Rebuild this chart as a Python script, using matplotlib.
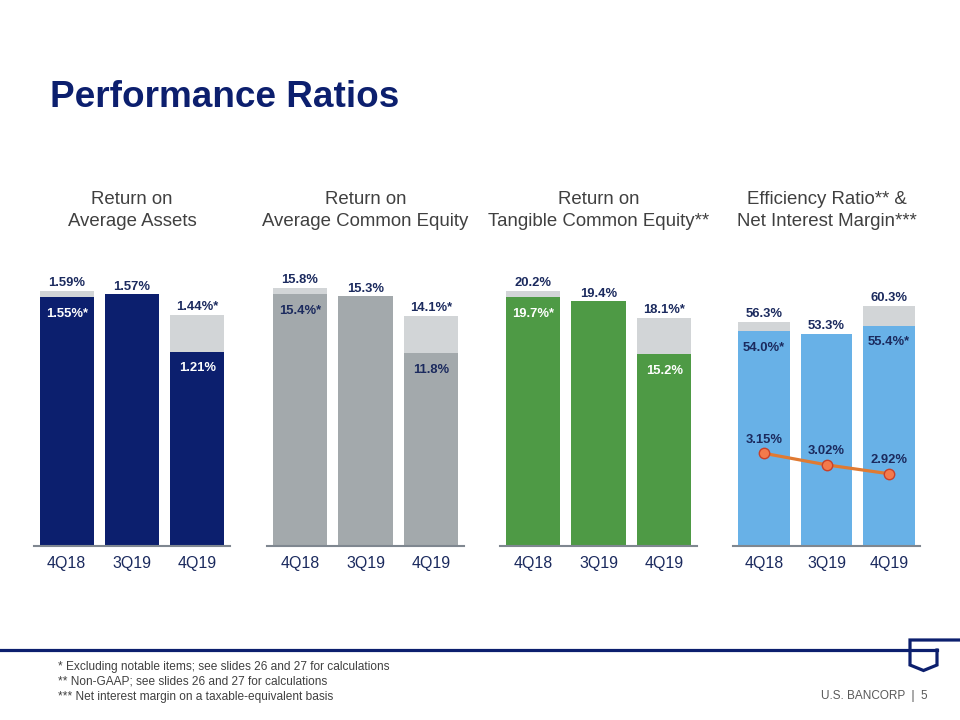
import numpy as np
import matplotlib
matplotlib.use("Agg")
import matplotlib.pyplot as plt
from matplotlib.lines import Line2D

plt.rcParams['font.family'] = ['Liberation Sans', 'DejaVu Sans']

# ---------------- data ----------------
categories = ['4Q18', '3Q19', '4Q19']

roa_reported = [1.59, 1.57, 1.21]
roa_adjusted = [1.55, np.nan, 1.44]

roe_reported = [15.8, 15.3, 11.8]
roe_adjusted = [15.4, np.nan, 14.1]

rotce_reported = [20.2, 19.4, 15.2]
rotce_adjusted = [19.7, np.nan, 18.1]

eff_reported = [56.3, 53.3, 60.3]
eff_adjusted = [54.0, np.nan, 55.4]

nim_values = [3.15, 3.02, 2.92]

panel_titles = ['Return on\nAverage Assets',
                'Return on\nAverage Common Equity',
                'Return on\nTangible Common Equity**',
                'Efficiency Ratio** &\nNet Interest Margin***']

footnotes = ['* Excluding notable items; see slides 26 and 27 for calculations',
             '** Non-GAAP; see slides 26 and 27 for calculations',
             '*** Net interest margin on a taxable-equivalent basis']

# ---------------- style ----------------
NAVY = '#0c1f6e'
TXT_NAVY = '#1b2a5e'
LIGHT = '#d2d5d7'
TITLE_GRAY = '#404040'

W, H = 960, 720
fig = plt.figure(figsize=(9.6, 7.2), dpi=100)
fig.patch.set_facecolor('white')

def fx(px):
    return px / W

def fy(py):
    return 1 - py / H

panels = [
    dict(rep=roa_reported, adj=roa_adjusted, color=NAVY, inner='white',
         fmt='{:.2f}%', x=(34, 230), ytop=1.783, width=0.83),
    dict(rep=roe_reported, adj=roe_adjusted, color='#a3a9ac', inner=TXT_NAVY,
         fmt='{:.1f}%', x=(267, 464), ytop=17.51, width=0.83),
    dict(rep=rotce_reported, adj=rotce_adjusted, color='#4e9a45', inner='white',
         fmt='{:.1f}%', x=(500, 697), ytop=22.66, width=0.83),
    dict(rep=eff_reported, adj=eff_adjusted, color='#68b1e7', inner=TXT_NAVY,
         fmt='{:.1f}%', x=(733, 920), ytop=71.86, width=0.83),
]

ax_top_px, ax_bot_px = 260, 546
for i, p in enumerate(panels):
    l, r = p['x']
    ax = fig.add_axes([fx(l), fy(ax_bot_px), fx(r - l), (ax_bot_px - ax_top_px) / H])
    rep = np.array(p['rep'], dtype=float)
    adj = np.array(p['adj'], dtype=float)
    low = np.where(np.isnan(adj), rep, np.fmin(rep, adj))
    high = np.where(np.isnan(adj), rep, np.fmax(rep, adj))
    xs = np.arange(len(categories))
    ax.bar(xs, low, width=p['width'], color=p['color'], zorder=2)
    ax.bar(xs, high - low, bottom=low, width=p['width'], color=LIGHT, zorder=2)

    for j in range(len(categories)):
        top_is_adj = (not np.isnan(adj[j])) and adj[j] >= rep[j]
        top_lbl = p['fmt'].format(high[j]) + ('*' if top_is_adj else '')
        ax.annotate(top_lbl, (xs[j], high[j]), xytext=(0, 3.3),
                    textcoords='offset points', ha='center', va='baseline',
                    fontsize=9.4, fontweight='bold', color=TXT_NAVY, zorder=5)
        if not np.isnan(adj[j]):
            low_is_adj = adj[j] < rep[j]
            low_lbl = p['fmt'].format(low[j]) + ('*' if low_is_adj else '')
            ax.annotate(low_lbl, (xs[j], low[j]), xytext=(0, -14),
                        textcoords='offset points', ha='center', va='baseline',
                        fontsize=9.4, fontweight='bold', color=p['inner'], zorder=5)

    ax.set_xlim(-0.5, len(categories) - 0.5)
    ax.set_ylim(0, p['ytop'])
    ax.set_xticks(xs)
    ax.set_xticklabels(categories, fontsize=11.5, color=TXT_NAVY)
    ax.tick_params(axis='x', length=0, pad=7)
    ax.set_yticks([])
    for s in ['top', 'left', 'right']:
        ax.spines[s].set_visible(False)
    ax.spines['bottom'].set_color('#7f8790')
    ax.spines['bottom'].set_linewidth(1.5)
    ax.spines['bottom'].set_zorder(3)
    ax.patch.set_alpha(0)

    fig.text(fx((l + r) / 2), fy(210.5), panel_titles[i], ha='center', va='center',
             fontsize=13.4, color=TITLE_GRAY, linespacing=1.42)

    if i == 3:
        ax2 = ax.twinx()
        ax2.plot(xs, nim_values, color='#e07a32', lw=2.3, marker='o', ms=7.5,
                 mfc='#f37a4c', mec='#c8402a', mew=1.0, zorder=6)
        for j, v in enumerate(nim_values):
            ax2.annotate('{:.2f}%'.format(v), (xs[j], v), xytext=(0, 7.6),
                         textcoords='offset points', ha='center', va='baseline',
                         fontsize=9.4, fontweight='bold', color=TXT_NAVY, zorder=7)
        ax2.set_ylim(2.105, 5.33)
        ax2.set_yticks([])
        for s in ['top', 'left', 'right', 'bottom']:
            ax2.spines[s].set_visible(False)

# main title
fig.text(fx(50), fy(106.7), 'Performance Ratios', ha='left', va='baseline',
         fontsize=26.6, fontweight='bold', color=NAVY)

# footer line and logo
lw = 2.3
fig.add_artist(Line2D([fx(0), fx(937)], [fy(650), fy(650)], color=NAVY, lw=lw,
                      transform=fig.transFigure))
fig.add_artist(Line2D([fx(960), fx(910), fx(910), fx(923.5), fx(937), fx(937)],
                      [fy(640), fy(640), fy(665), fy(670.5), fy(665), fy(650)],
                      color=NAVY, lw=lw, transform=fig.transFigure,
                      solid_joinstyle='miter'))

# footnotes
for k, t in enumerate(footnotes):
    fig.text(fx(58), fy(667 + 15 * k), t, ha='left', va='center',
             fontsize=8.6, color=TITLE_GRAY)

fig.text(fx(928), fy(696), 'U.S. BANCORP  |  5', ha='right', va='center',
         fontsize=8.5, color='#595959')

fig.savefig('out.png', dpi=100, facecolor='white')
